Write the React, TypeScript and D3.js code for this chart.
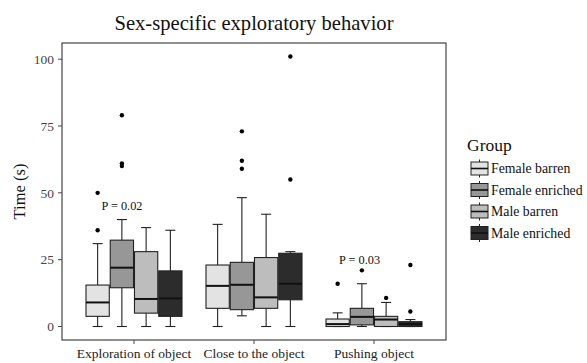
import React from "react";
import * as d3 from "d3";

const categories = ["Exploration of object", "Close to the object", "Pushing object"];
const groups = ["Female barren", "Female enriched", "Male barren", "Male enriched"];
const groupFills = ["#e3e3e3", "#979797", "#bdbdbd", "#2c2c2c"];

// rows = categories, columns = groups
const whiskerLow = [
  [0, 0, 0, 0],
  [0, 4, 0, 0],
  [0, 0, 0, 0],
];
const q1 = [
  [3.8, 14.5, 5, 3.8],
  [6.8, 6.3, 6.8, 10],
  [0, 0.6, 0, 0],
];
const median = [
  [9, 22, 10.3, 10.5],
  [15.2, 15.6, 10.9, 16],
  [0.9, 3.6, 2.6, 0.9],
];
const q3 = [
  [15.5, 32.3, 28, 20.8],
  [23, 24, 25.8, 27.4],
  [2.8, 6.8, 3.8, 1.8],
];
const whiskerHigh = [
  [31, 40, 37, 36],
  [38.2, 48.2, 42, 28],
  [5.1, 16, 9, 2.6],
];
// [categoryIndex, groupIndex, value]
const outliers: [number, number, number][] = [
  [0, 0, 36], [0, 0, 50],
  [0, 1, 60], [0, 1, 61], [0, 1, 79],
  [1, 1, 59], [1, 1, 62], [1, 1, 73],
  [1, 3, 55], [1, 3, 101],
  [2, 0, 16],
  [2, 1, 21],
  [2, 2, 10.7],
  [2, 3, 5.6], [2, 3, 23],
];
const yTicks = [0, 25, 50, 75, 100];
const annotations: [number, number, number, string][] = [
  // [categoryIndex, groupOffsetUnits, value, text]
  [0, -0.1, 45.3, "P = 0.02"],
  [2, -0.12, 25, "P = 0.03"],
];

const W = 587, H = 363;
const panel = { left: 62, top: 43, right: 446, bottom: 340 };
const serif = "'Liberation Serif', 'Times New Roman', serif";

export default function App() {
  const x = d3.scalePoint<string>().domain(categories).range([panel.left, panel.right]).padding(0.6);
  const step = x.step();
  const gx = d3.scaleBand<string>().domain(groups).range([-step * 0.4, step * 0.4]).paddingInner(0.04);
  const y = d3.scaleLinear().domain([-5.05, 106.05]).range([panel.bottom, panel.top]);
  const bw = gx.bandwidth();
  const capW = 10;

  return (
    <svg width={W} height={H} style={{ position: "absolute", left: 0, top: 0, background: "#fff" }}>
      <rect x={0} y={0} width={W} height={H} fill="#fff" />
      <text x={(panel.left + panel.right) / 2} y={30} textAnchor="middle" fontFamily={serif} fontSize={20.6} fill="#111">
        Sex-specific exploratory behavior
      </text>

      {/* boxes */}
      {categories.map((c, ci) =>
        groups.map((g, gi) => {
          const cx = (x(c) as number) + (gx(g) as number) + bw / 2;
          return (
            <g key={c + g}>
              <line x1={cx} x2={cx} y1={y(q3[ci][gi])} y2={y(whiskerHigh[ci][gi])} stroke="#222" strokeWidth={1.1} />
              <line x1={cx} x2={cx} y1={y(q1[ci][gi])} y2={y(whiskerLow[ci][gi])} stroke="#222" strokeWidth={1.1} />
              <line x1={cx - capW / 2} x2={cx + capW / 2} y1={y(whiskerHigh[ci][gi])} y2={y(whiskerHigh[ci][gi])} stroke="#222" strokeWidth={1.1} />
              <line x1={cx - capW / 2} x2={cx + capW / 2} y1={y(whiskerLow[ci][gi])} y2={y(whiskerLow[ci][gi])} stroke="#222" strokeWidth={1.1} />
              <rect x={cx - bw / 2} y={y(q3[ci][gi])} width={bw} height={Math.max(0.5, y(q1[ci][gi]) - y(q3[ci][gi]))} fill={groupFills[gi]} stroke="#222" strokeWidth={1.1} />
              <line x1={cx - bw / 2} x2={cx + bw / 2} y1={y(median[ci][gi])} y2={y(median[ci][gi])} stroke="#111" strokeWidth={2} />
            </g>
          );
        })
      )}

      {outliers.map(([ci, gi, v], i) => {
        const cx = (x(categories[ci]) as number) + (gx(groups[gi]) as number) + bw / 2;
        return <circle key={i} cx={cx} cy={y(v)} r={2.2} fill="#000" />;
      })}

      {annotations.map(([ci, off, v, t], i) => (
        <text key={i} x={(x(categories[ci]) as number) + off * step} y={y(v)} dy="0.35em" textAnchor="middle" fontFamily={serif} fontSize={12.3} fill="#111">
          {t}
        </text>
      ))}

      {/* panel border */}
      <rect x={panel.left} y={panel.top} width={panel.right - panel.left} height={panel.bottom - panel.top} fill="none" stroke="#444" strokeWidth={1.2} />

      {/* y axis */}
      {yTicks.map((t) => (
        <g key={t}>
          <line x1={panel.left - 4} x2={panel.left} y1={y(t)} y2={y(t)} stroke="#444" strokeWidth={1} />
          <text x={panel.left - 8} y={y(t)} dy="0.35em" textAnchor="end" fontFamily={serif} fontSize={13.5} fill="#444">
            {t}
          </text>
        </g>
      ))}
      <text transform={`translate(${19},${(panel.top + panel.bottom) / 2}) rotate(-90)`} textAnchor="middle" dy="0.35em" fontFamily={serif} fontSize={16.5} fill="#111">
        Time (s)
      </text>

      {/* x axis */}
      {categories.map((c) => (
        <g key={c}>
          <line x1={x(c)} x2={x(c)} y1={panel.bottom} y2={panel.bottom + 4} stroke="#444" strokeWidth={1} />
          <text x={x(c)} y={panel.bottom + 17.5} textAnchor="middle" fontFamily={serif} fontSize={13.5} fill="#222">
            {c}
          </text>
        </g>
      ))}

      {/* legend */}
      <text x={467} y={151} fontFamily={serif} fontSize={17.5} fill="#111">Group</text>
      {groups.map((g, i) => {
        const cy = 168.5 + i * 21.5;
        const kx = 471, kw = 17;
        return (
          <g key={g}>
            <line x1={kx + kw / 2} x2={kx + kw / 2} y1={cy - 9} y2={cy + 9} stroke="#222" strokeWidth={1} />
            <rect x={kx} y={cy - 6.5} width={kw} height={13} fill={groupFills[i]} stroke="#222" strokeWidth={1} />
            <line x1={kx} x2={kx + kw} y1={cy} y2={cy} stroke="#111" strokeWidth={1.6} />
            <text x={491} y={cy} dy="0.35em" fontFamily={serif} fontSize={13.8} fill="#111">{g}</text>
          </g>
        );
      })}
    </svg>
  );
}
